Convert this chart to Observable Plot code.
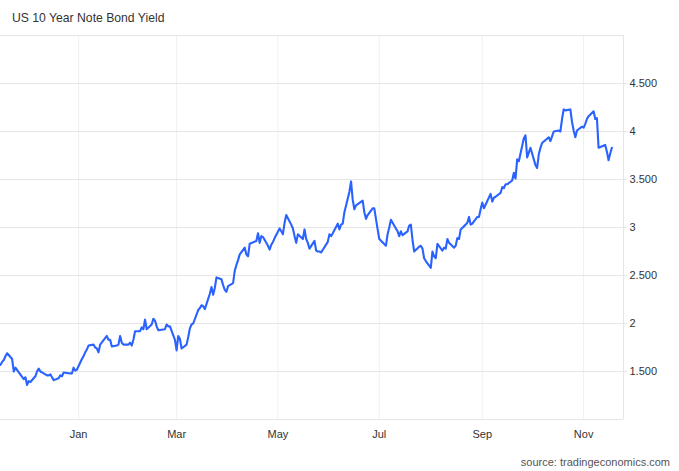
<!DOCTYPE html>
<html>
<head>
<meta charset="utf-8">
<script src="https://cdn.jsdelivr.net/npm/d3@7"></script>
<script src="https://cdn.jsdelivr.net/npm/@observablehq/plot@0.6"></script>
<style>
  html, body { margin: 0; padding: 0; background: #fff; }
  #wrap { position: relative; width: 679px; height: 471px; font-family: "Liberation Sans", Arial, sans-serif; }
  #title { position: absolute; left: 12px; top: 11px; font-size: 12.2px; color: #333; }
  #source { position: absolute; right: 9px; top: 456px; font-size: 11px; color: #555; }
  #chart { position: absolute; left: 0; top: 0; }
</style>
</head>
<body>
<div id="wrap">
  <div id="chart"></div>
  <div id="title">US 10 Year Note Bond Yield</div>
  <div id="source">source: tradingeconomics.com</div>
</div>
<script>
// Daily yields (%)
const dates = [
  "2021-11-15","2021-11-16","2021-11-17","2021-11-18","2021-11-19","2021-11-22","2021-11-23","2021-11-24","2021-11-26","2021-11-29","2021-11-30",
  "2021-12-01","2021-12-02","2021-12-03","2021-12-06","2021-12-07","2021-12-08","2021-12-09","2021-12-10","2021-12-13","2021-12-14","2021-12-15","2021-12-16","2021-12-17","2021-12-20","2021-12-21","2021-12-22","2021-12-23","2021-12-27","2021-12-28","2021-12-29","2021-12-30","2021-12-31",
  "2022-01-03","2022-01-04","2022-01-05","2022-01-06","2022-01-07","2022-01-10","2022-01-11","2022-01-12","2022-01-13","2022-01-14","2022-01-18","2022-01-19","2022-01-20","2022-01-21","2022-01-24","2022-01-25","2022-01-26","2022-01-27","2022-01-28","2022-01-31",
  "2022-02-01","2022-02-02","2022-02-03","2022-02-04","2022-02-07","2022-02-08","2022-02-09","2022-02-10","2022-02-11","2022-02-14","2022-02-15","2022-02-16","2022-02-17","2022-02-18","2022-02-22","2022-02-23","2022-02-24","2022-02-25","2022-02-28",
  "2022-03-01","2022-03-02","2022-03-03","2022-03-04","2022-03-07","2022-03-08","2022-03-09","2022-03-10","2022-03-11","2022-03-14","2022-03-15","2022-03-16","2022-03-17","2022-03-18","2022-03-21","2022-03-22","2022-03-23","2022-03-24","2022-03-25","2022-03-28","2022-03-29","2022-03-30","2022-03-31",
  "2022-04-01","2022-04-04","2022-04-05","2022-04-06","2022-04-07","2022-04-08","2022-04-11","2022-04-12","2022-04-13","2022-04-14","2022-04-18","2022-04-19","2022-04-20","2022-04-21","2022-04-22","2022-04-25","2022-04-26","2022-04-27","2022-04-28","2022-04-29",
  "2022-05-02","2022-05-03","2022-05-04","2022-05-05","2022-05-06","2022-05-09","2022-05-10","2022-05-11","2022-05-12","2022-05-13","2022-05-16","2022-05-17","2022-05-18","2022-05-19","2022-05-20","2022-05-23","2022-05-24","2022-05-25","2022-05-26","2022-05-27","2022-05-31",
  "2022-06-01","2022-06-02","2022-06-03","2022-06-06","2022-06-07","2022-06-08","2022-06-09","2022-06-10","2022-06-13","2022-06-14","2022-06-15","2022-06-16","2022-06-17","2022-06-21","2022-06-22","2022-06-23","2022-06-24","2022-06-27","2022-06-28","2022-06-29","2022-06-30",
  "2022-07-01","2022-07-05","2022-07-06","2022-07-07","2022-07-08","2022-07-11","2022-07-12","2022-07-13","2022-07-14","2022-07-15","2022-07-18","2022-07-19","2022-07-20","2022-07-21","2022-07-22","2022-07-25","2022-07-26","2022-07-27","2022-07-28","2022-07-29",
  "2022-08-01","2022-08-02","2022-08-03","2022-08-04","2022-08-05","2022-08-08","2022-08-09","2022-08-10","2022-08-11","2022-08-12","2022-08-15","2022-08-16","2022-08-17","2022-08-18","2022-08-19","2022-08-22","2022-08-23","2022-08-24","2022-08-25","2022-08-26","2022-08-29","2022-08-30","2022-08-31",
  "2022-09-01","2022-09-02","2022-09-06","2022-09-07","2022-09-08","2022-09-09","2022-09-12","2022-09-13","2022-09-14","2022-09-15","2022-09-16","2022-09-19","2022-09-20","2022-09-21","2022-09-22","2022-09-23","2022-09-26","2022-09-27","2022-09-28","2022-09-29","2022-09-30",
  "2022-10-03","2022-10-04","2022-10-05","2022-10-06","2022-10-07","2022-10-11","2022-10-12","2022-10-13","2022-10-14","2022-10-17","2022-10-18","2022-10-19","2022-10-20","2022-10-21","2022-10-24","2022-10-25","2022-10-26","2022-10-27","2022-10-28","2022-10-31",
  "2022-11-01","2022-11-02","2022-11-03","2022-11-04","2022-11-07","2022-11-08","2022-11-09","2022-11-10","2022-11-14","2022-11-15","2022-11-16","2022-11-17","2022-11-18"
];
const yields = [
  1.57,1.60,1.62,1.66,1.69,1.63,1.50,1.54,1.49,1.42,1.44,
  1.36,1.40,1.39,1.45,1.50,1.53,1.50,1.49,1.46,1.46,1.47,1.44,1.41,1.43,1.46,1.45,1.49,1.48,1.48,1.54,1.51,1.52,
  1.63,1.66,1.70,1.73,1.77,1.78,1.75,1.74,1.70,1.78,1.87,1.83,1.83,1.76,1.77,1.78,1.87,1.80,1.78,1.78,
  1.80,1.77,1.83,1.92,1.92,1.96,1.94,2.04,1.94,1.99,2.05,2.03,1.97,1.93,1.94,1.99,1.97,1.97,1.83,
  1.72,1.87,1.84,1.74,1.78,1.86,1.95,1.99,2.00,2.14,2.16,2.19,2.18,2.15,2.31,2.38,2.30,2.37,2.48,2.46,2.40,2.35,2.33,
  2.39,2.42,2.55,2.61,2.66,2.72,2.79,2.72,2.70,2.83,2.86,2.94,2.84,2.91,2.90,2.81,2.77,2.82,2.85,2.89,
  2.99,2.96,2.93,3.05,3.13,3.03,2.99,2.91,2.84,2.93,2.88,2.98,2.88,2.84,2.78,2.86,2.76,2.75,2.75,2.74,2.85,
  2.93,2.91,2.94,3.04,2.98,3.03,3.04,3.16,3.37,3.48,3.29,3.19,3.23,3.28,3.16,3.09,3.13,3.20,3.20,3.09,2.98,
  2.88,2.81,2.93,3.00,3.08,2.99,2.96,2.91,2.96,2.92,2.96,3.02,3.03,2.87,2.75,2.80,2.81,2.78,2.68,2.65,
  2.58,2.75,2.70,2.68,2.83,2.76,2.79,2.78,2.88,2.84,2.79,2.81,2.89,2.88,2.98,3.03,3.05,3.11,3.03,3.04,3.11,3.11,3.19,
  3.26,3.20,3.35,3.27,3.31,3.32,3.36,3.42,3.41,3.45,3.45,3.49,3.57,3.51,3.71,3.69,3.93,3.96,3.73,3.78,3.83,
  3.65,3.62,3.76,3.83,3.88,3.94,3.90,3.95,4.00,4.01,4.00,4.13,4.23,4.22,4.23,4.10,4.01,3.94,4.01,4.05,
  4.04,4.08,4.13,4.16,4.21,4.13,4.14,3.83,3.86,3.79,3.70,3.77,3.83
];
const monthTicks = ["2022-01-01","2022-03-01","2022-05-01","2022-07-01","2022-09-01","2022-11-01"];
const monthLabels = ["Jan","Mar","May","Jul","Sep","Nov"];
const yTicks = [1.5, 2, 2.5, 3, 3.5, 4, 4.5];
const yLabels = ["1.500","2","2.500","3","3.500","4","4.500"];
const xDomain = ["2021-11-15","2022-11-25"];
const yDomain = [1, 5];

const data = dates.map((d, i) => ({date: new Date(d), value: yields[i]}));
const mTicks = monthTicks.map(d => new Date(d));

const chart = Plot.plot({
  width: 679,
  height: 471,
  marginTop: 35,
  marginBottom: 52,
  marginLeft: 0,
  marginRight: 56,
  style: {fontFamily: "'Liberation Sans', Arial, sans-serif", background: "transparent", color: "#333"},
  x: {type: "utc", domain: xDomain.map(d => new Date(d))},
  y: {domain: yDomain},
  marks: [
    Plot.ruleX(mTicks, {stroke: "#edf1f4", strokeWidth: 1}),
    Plot.ruleY(yTicks, {stroke: "#e6e6e6", strokeWidth: 1}),
    Plot.ruleY([yDomain[1]], {stroke: "#e6e6e6"}),
    Plot.ruleY([yDomain[0]], {stroke: "#e6e6e6"}),
    Plot.ruleX([new Date(xDomain[1])], {stroke: "#e6e6e6"}),
    Plot.axisX(mTicks, {
      tickSize: 0, tickPadding: 11, fontSize: 11, fill: "#333",
      tickFormat: (d, i) => monthLabels[i]
    }),
    Plot.axisY(yTicks, {
      anchor: "right", tickSize: 3, tickPadding: 3, fontSize: 11, fill: "#333",
      stroke: "#e6e6e6", tickFormat: (d, i) => yLabels[i], label: null
    }),
    Plot.lineY(data, {x: "date", y: "value", stroke: "#2962ff", strokeWidth: 2.1, curve: "linear"})
  ]
});
document.getElementById("chart").appendChild(chart);
</script>
</body>
</html>
